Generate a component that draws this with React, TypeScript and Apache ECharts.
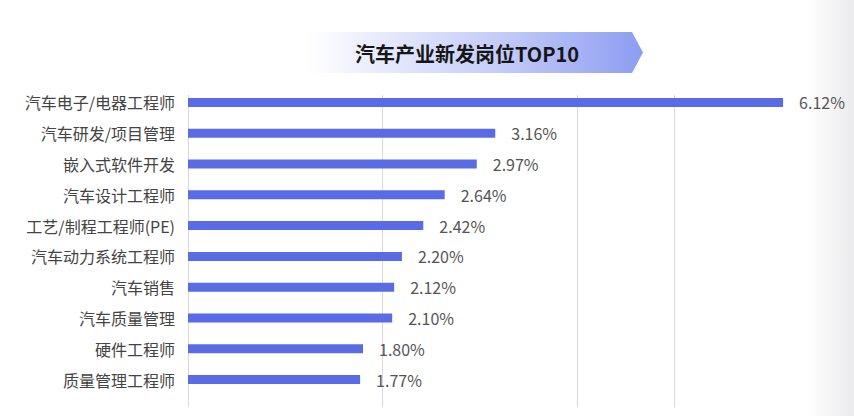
import { useEffect, useRef } from "react";
import * as echarts from "echarts";

const FONT = '"Noto Sans CJK SC", "Noto Sans", sans-serif';

const categories = [
  "汽车电子/电器工程师",
  "汽车研发/项目管理",
  "嵌入式软件开发",
  "汽车设计工程师",
  "工艺/制程工程师(PE)",
  "汽车动力系统工程师",
  "汽车销售",
  "汽车质量管理",
  "硬件工程师",
  "质量管理工程师",
];

const shares = [6.12, 3.16, 2.97, 2.64, 2.42, 2.2, 2.12, 2.1, 1.8, 1.77];

// vertical guide lines only appear at these values in the picture
const gridTicks = [0, 2, 4, 5];
const axisMax = 6.5;

const title = "汽车产业新发岗位TOP10";

export default function App() {
  const ref = useRef<HTMLDivElement>(null);

  useEffect(() => {
    if (!ref.current) return;
    const chart = echarts.init(ref.current, undefined, { renderer: "svg" });

    // one colour per tick (0,1,...,6, then max)
    const lineColors = [0, 1, 2, 3, 4, 5, 6, 7].map((i) =>
      gridTicks.includes(i) ? "#d9d9de" : "rgba(0,0,0,0)"
    );

    chart.setOption({
      animation: false,
      backgroundColor: "#ffffff",
      graphic: [
        {
          type: "rect",
          silent: true,
          z: -10,
          shape: { x: 805, y: 0, width: 49, height: 416 },
          style: {
            fill: new echarts.graphic.LinearGradient(0, 0, 1, 0, [
              { offset: 0, color: "rgba(236,236,238,0)" },
              { offset: 1, color: "#ebebed" },
            ]),
          },
        },
        {
          type: "polygon",
          silent: true,
          z: -5,
          shape: {
            points: [
              [292, 32],
              [632, 32],
              [643, 52.5],
              [632, 73],
              [292, 73],
            ],
          },
          style: {
            fill: new echarts.graphic.LinearGradient(0, 0, 1, 0, [
              { offset: 0, color: "rgba(255,255,255,0)" },
              { offset: 0.15, color: "#f3f4fe" },
              { offset: 0.6, color: "#c3cbf8" },
              { offset: 1, color: "#8c9df1" },
            ]),
          },
        },
        {
          type: "text",
          silent: true,
          x: 467,
          y: 53,
          style: {
            text: title,
            fill: "#161616",
            font: `bold 20px ${FONT}`,
            align: "center",
            verticalAlign: "middle",
          },
        },
      ],
      grid: [
        { left: 188, right: 34, top: 87, height: 308, containLabel: false },
        { left: 188, right: 34, top: 95, bottom: 9, containLabel: false },
      ],
      xAxis: [
        {
          gridIndex: 0,
          type: "value",
          min: 0,
          max: axisMax,
          show: false,
        },
        {
          gridIndex: 1,
          type: "value",
          min: 0,
          max: axisMax,
          interval: 1,
          axisLine: { show: false },
          axisTick: { show: false },
          axisLabel: { show: false },
          splitLine: { show: true, lineStyle: { color: lineColors, width: 1 } },
        },
      ],
      yAxis: [
        {
          gridIndex: 0,
          type: "category",
          inverse: true,
          data: categories,
          axisLine: { show: false },
          axisTick: { show: false },
          axisLabel: {
            fontSize: 16,
            color: "#444444",
            fontFamily: FONT,
            margin: 13,
          },
        },
        {
          gridIndex: 1,
          type: "value",
          show: false,
          min: 0,
          max: 1,
          splitLine: { show: false },
        },
      ],
      series: [
        {
          type: "bar",
          xAxisIndex: 0,
          yAxisIndex: 0,
          data: shares,
          barWidth: 9,
          itemStyle: { color: "#5a6be6" },
          label: {
            show: true,
            position: "right",
            distance: 16,
            fontSize: 16,
            color: "#555555",
            fontFamily: FONT,
            formatter: (p: any) => `${Number(p.value).toFixed(2)}%`,
          },
          z: 5,
        },
      ],
    });

    return () => {
      chart.dispose();
    };
  }, []);

  return (
    <div
      ref={ref}
      style={{ position: "fixed", left: 0, top: 0, width: 854, height: 416 }}
    />
  );
}
